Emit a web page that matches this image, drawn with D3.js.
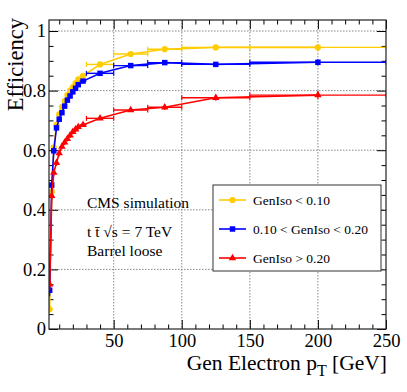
<!DOCTYPE html>
<html>
<head>
<meta charset="utf-8">
<script src="https://cdn.jsdelivr.net/npm/d3@7"></script>
<style>
  body { margin: 0; background: #fff; }
  svg text { font-family: "Liberation Serif", "DejaVu Serif", serif; fill: #000; }
</style>
</head>
<body>
<div id="chart"></div>
<script>
const chartWidth = 407, chartHeight = 392;
const frame = { left: 49, right: 386, top: 20, bottom: 329 };

// bin edges in GeV
const ptEdges = [2, 4, 5, 7, 9, 11, 13, 15, 17, 19, 21, 23, 25, 30, 50, 75, 100, 150, 250];

const seriesNames = ["GenIso < 0.10", "0.10 < GenIso < 0.20", "GenIso > 0.20"];
const effLow = [0.066, 0.46, 0.61, 0.685, 0.72, 0.745, 0.765, 0.785, 0.80, 0.812, 0.825, 0.838, 0.85, 0.888, 0.923, 0.939, 0.945, 0.945];
const effMid = [0.13, 0.483, 0.598, 0.675, 0.704, 0.726, 0.748, 0.768, 0.782, 0.796, 0.808, 0.82, 0.832, 0.858, 0.884, 0.894, 0.888, 0.895];
const effHigh = [0.15, 0.447, 0.525, 0.558, 0.59, 0.612, 0.626, 0.638, 0.65, 0.662, 0.67, 0.678, 0.685, 0.707, 0.735, 0.744, 0.776, 0.785];
const errLow = [0.01, 0.008, 0.006, 0.005, 0.005, 0.004, 0.004, 0.004, 0.004, 0.004, 0.004, 0.004, 0.003, 0.003, 0.003, 0.004, 0.004, 0.006];
const errMid = [0.02, 0.015, 0.012, 0.01, 0.009, 0.008, 0.008, 0.008, 0.008, 0.008, 0.008, 0.008, 0.006, 0.005, 0.005, 0.006, 0.007, 0.01];
const errHigh = [0.02, 0.015, 0.012, 0.01, 0.01, 0.009, 0.009, 0.009, 0.009, 0.009, 0.009, 0.009, 0.007, 0.006, 0.007, 0.009, 0.01, 0.014];

const xMajorTicks = [50, 100, 150, 200, 250];
const yMajorTicks = [0, 0.2, 0.4, 0.6, 0.8, 1];

const colors = ["#ffcc00", "#0000ff", "#ff0000"];
const markerTypes = [d3.symbolCircle, d3.symbolSquare, d3.symbolTriangle];
const markerSizes = [30, 30, 24];

const svg = d3.select("#chart").append("svg")
  .attr("width", chartWidth)
  .attr("height", chartHeight);

const x = d3.scaleLinear().domain([2.5, 250]).range([frame.left, frame.right]);
const y = d3.scaleLinear().domain([0, 1.037]).range([frame.bottom, frame.top]);

svg.append("defs").append("clipPath").attr("id", "frameClip")
  .append("rect")
  .attr("x", frame.left).attr("y", frame.top)
  .attr("width", frame.right - frame.left)
  .attr("height", frame.bottom - frame.top);

// grid
const grid = svg.append("g").attr("stroke", "#888").attr("stroke-dasharray", "1.5,1.5").attr("stroke-width", 1);
grid.selectAll(".gx").data(xMajorTicks.slice(0, -1)).join("line")
  .attr("x1", d => x(d)).attr("x2", d => x(d))
  .attr("y1", frame.top).attr("y2", frame.bottom);
grid.selectAll(".gy").data(yMajorTicks.slice(1)).join("line")
  .attr("x1", frame.left).attr("x2", frame.right)
  .attr("y1", d => y(d)).attr("y2", d => y(d));

// axes, ticks pointing inside (ROOT style)
const xMinor = d3.range(10, 250, 10).filter(d => d % 50 !== 0);
const yMinor = d3.range(0.05, 1.037, 0.05).filter(d => Math.abs(d * 5 - Math.round(d * 5)) > 1e-6);

function drawAxis(axisFn, scale, translate, major, minor, labels) {
  const g = svg.append("g").attr("transform", translate);
  g.call(axisFn(scale).tickValues(minor).tickSize(-4.5).tickFormat(""));
  const gm = svg.append("g").attr("transform", translate);
  const ax = axisFn(scale).tickValues(major).tickSize(-9).tickPadding(labels ? labels.pad : 0);
  ax.tickFormat(labels ? labels.fmt : "");
  gm.call(ax);
  [g, gm].forEach(s => {
    s.select(".domain").remove();
    s.selectAll("line").attr("stroke", "#000");
    s.selectAll("text").attr("font-size", 18.5).attr("font-family", "Liberation Serif");
  });
}

const yFmt = d => d === 0 ? "0" : d === 1 ? "1" : d.toFixed(1);
drawAxis(d3.axisBottom, x, `translate(0,${frame.bottom})`, xMajorTicks, xMinor, { pad: 5, fmt: d3.format("d") });
drawAxis(d3.axisTop, x, `translate(0,${frame.top})`, xMajorTicks, xMinor, null);
drawAxis(d3.axisLeft, y, `translate(${frame.left},0)`, yMajorTicks, yMinor, { pad: 3, fmt: yFmt });
drawAxis(d3.axisRight, y, `translate(${frame.right},0)`, yMajorTicks, yMinor, null);

// series
const allEff = [effLow, effMid, effHigh];
const allErr = [errLow, errMid, errHigh];
const plot = svg.append("g").attr("clip-path", "url(#frameClip)");

allEff.forEach((eff, s) => {
  const pts = eff.map((v, i) => ({
    lo: ptEdges[i], hi: ptEdges[i + 1],
    c: (ptEdges[i] + ptEdges[i + 1]) / 2,
    v: v, e: allErr[s][i]
  }));
  const g = plot.append("g").attr("stroke", colors[s]).attr("fill", colors[s]);

  g.append("path")
    .datum(pts)
    .attr("fill", "none")
    .attr("stroke-width", 1.6)
    .attr("d", d3.line().x(d => x(d.c)).y(d => y(d.v)));

  g.selectAll(".hbar").data(pts).join("line")
    .attr("stroke-width", 1.4)
    .attr("x1", d => x(d.lo)).attr("x2", d => x(d.hi))
    .attr("y1", d => y(d.v)).attr("y2", d => y(d.v));
  g.selectAll(".capL").data(pts.filter(d => x(d.hi) - x(d.lo) > 10)).join("line")
    .attr("stroke-width", 1.2)
    .attr("x1", d => x(d.lo)).attr("x2", d => x(d.lo))
    .attr("y1", d => y(d.v) - 2.5).attr("y2", d => y(d.v) + 2.5);
  g.selectAll(".capR").data(pts.filter(d => x(d.hi) - x(d.lo) > 10)).join("line")
    .attr("stroke-width", 1.2)
    .attr("x1", d => x(d.hi)).attr("x2", d => x(d.hi))
    .attr("y1", d => y(d.v) - 2.5).attr("y2", d => y(d.v) + 2.5);
  g.selectAll(".vbar").data(pts).join("line")
    .attr("stroke-width", 1.2)
    .attr("x1", d => x(d.c)).attr("x2", d => x(d.c))
    .attr("y1", d => y(d.v - d.e)).attr("y2", d => y(d.v + d.e));

  g.selectAll(".marker").data(pts).join("path")
    .attr("stroke", "none")
    .attr("transform", d => `translate(${x(d.c)},${y(d.v)})`)
    .attr("d", d3.symbol().type(markerTypes[s]).size(markerSizes[s]));
});

// frame
svg.append("rect")
  .attr("x", frame.left).attr("y", frame.top)
  .attr("width", frame.right - frame.left)
  .attr("height", frame.bottom - frame.top)
  .attr("fill", "none").attr("stroke", "#222").attr("stroke-width", 1.2);

// axis titles
svg.append("text")
  .attr("transform", `translate(23,${frame.top - 2}) rotate(-90)`)
  .attr("text-anchor", "end")
  .attr("font-size", 22.5)
  .text("Efficiency");

const xTitle = svg.append("text")
  .attr("x", frame.right + 1).attr("y", 370)
  .attr("text-anchor", "end")
  .attr("font-size", 21.5);
xTitle.append("tspan").text("Gen Electron p");
xTitle.append("tspan").attr("dy", 6).attr("font-size", 16).text("T");
xTitle.append("tspan").attr("dy", -6).text(" [GeV]");

// annotation
const notes = svg.append("g").attr("font-size", 15.5);
notes.append("text").attr("x", 87).attr("y", 208).text("CMS simulation");
notes.append("text").attr("x", 87).attr("y", 237).text("t t\u0304  \u221As = 7 TeV");
notes.append("text").attr("x", 87).attr("y", 256).text("Barrel loose");

// legend
const legend = { x0: 213, y0: 185, x1: 381, y1: 271 };
svg.append("rect")
  .attr("x", legend.x0).attr("y", legend.y0)
  .attr("width", legend.x1 - legend.x0).attr("height", legend.y1 - legend.y0)
  .attr("fill", "#fff").attr("stroke", "#333").attr("stroke-width", 1);
const legendRows = [200, 229, 258];
seriesNames.forEach((name, s) => {
  const ly = legendRows[s];
  svg.append("line")
    .attr("x1", 219).attr("x2", 246).attr("y1", ly).attr("y2", ly)
    .attr("stroke", colors[s]).attr("stroke-width", 1.6);
  svg.append("path")
    .attr("transform", `translate(232.5,${ly})`)
    .attr("fill", colors[s])
    .attr("d", d3.symbol().type(markerTypes[s]).size(markerSizes[s])());
  svg.append("text")
    .attr("x", 253).attr("y", ly + 4.5)
    .attr("font-size", 13.5)
    .text(name);
});
</script>
</body>
</html>
